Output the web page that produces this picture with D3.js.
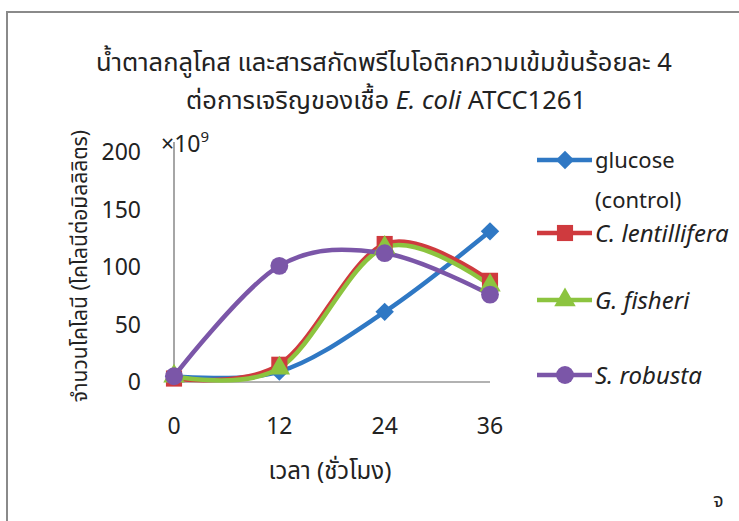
<!DOCTYPE html>
<html>
<head>
<meta charset="utf-8">
<script src="https://cdn.jsdelivr.net/npm/d3@7"></script>
<style>
  html, body { margin: 0; padding: 0; background: #fff; }
  svg { display: block; }
  text { font-family: "Noto Sans", "Noto Sans Thai", "Open Sans", sans-serif; fill: #222; }
</style>
</head>
<body>
<svg id="chart" width="739" height="521"></svg>
<script>
// Growth of E. coli ATCC1261 (colonies x10^9 per mL) over time
const hours = [0, 12, 24, 36];
const glucose = [5, 9, 61, 131];
const lentillifera = [3, 15, 120, 88];
const fisheri = [5, 12, 117, 84];
const robusta = [5, 101, 112, 76];
const yTicks = [0, 50, 100, 150, 200];

const seriesNames = ["glucose (control)", "C. lentillifera", "G. fisheri", "S. robusta"];
const seriesValues = [glucose, lentillifera, fisheri, robusta];
const colors = ["#2f78c4", "#cf3a3e", "#8cc43f", "#7b56a8"];

// marker shapes: diamond is a square turned 45 degrees
const markerPaths = [
  d3.symbol().type(d3.symbolSquare).size(170)(),
  d3.symbol().type(d3.symbolSquare).size(260)(),
  d3.symbol().type(d3.symbolTriangle).size(200)(),
  d3.symbol().type(d3.symbolCircle).size(250)()
];
const markerRotate = [45, 0, 0, 0];

const svg = d3.select("#chart");

// outer frame
svg.append("path")
  .attr("d", "M7,521 L7,12 L739,12")
  .attr("fill", "none").attr("stroke", "#8a8a8a").attr("stroke-width", 2);

const x = d3.scaleLinear().domain([0, 36]).range([174, 490]);
const y = d3.scaleLinear().domain([0, 200]).range([382, 152]);

// title
svg.append("text").attr("x", 384).attr("y", 71).attr("text-anchor", "middle")
  .attr("font-size", 25.5).text("น้ำตาลกลูโคส และสารสกัดพรีไบโอติกความเข้มข้นร้อยละ 4");
const t2 = svg.append("text").attr("x", 386).attr("y", 109).attr("text-anchor", "middle")
  .attr("font-size", 25.5);
t2.append("tspan").text("ต่อการเจริญของเชื้อ ");
t2.append("tspan").attr("font-style", "italic").text("E. coli");
t2.append("tspan").text(" ATCC1261");

// axes lines
svg.append("line").attr("x1", x(0)).attr("x2", x(0)).attr("y1", y(200) - 10).attr("y2", y(0))
  .attr("stroke", "#888").attr("stroke-width", 1.5);
svg.append("line").attr("x1", x(0)).attr("x2", x(36)).attr("y1", y(0)).attr("y2", y(0))
  .attr("stroke", "#999").attr("stroke-width", 1.5);

// y tick labels
svg.append("g").selectAll("text").data(yTicks).join("text")
  .attr("x", 141).attr("y", d => y(d) + 8).attr("text-anchor", "end")
  .attr("font-size", 23).text(d => d);

// x tick labels
svg.append("g").selectAll("text").data(hours).join("text")
  .attr("x", d => x(d)).attr("y", 434).attr("text-anchor", "middle")
  .attr("font-size", 23).text(d => d);

// multiplier
const mult = svg.append("text").attr("x", 161).attr("y", 152).attr("font-size", 23);
mult.append("tspan").text("×10");
mult.append("tspan").attr("font-size", 15).attr("dy", -10).text("9");

// axis titles
svg.append("text").attr("x", 330).attr("y", 479).attr("text-anchor", "middle")
  .attr("font-size", 24).text("เวลา (ชั่วโมง)");
svg.append("text").attr("transform", "translate(87,266) rotate(-90)").attr("text-anchor", "middle")
  .attr("font-size", 21).text("จำนวนโคโลนี (โคโลนีต่อมิลลิลิตร)");

// lines and markers
const line = d3.line().x((d, i) => x(hours[i])).y(d => y(d)).curve(d3.curveCardinal.tension(0));

seriesValues.forEach((vals, s) => {
  svg.append("path").datum(vals).attr("d", line)
    .attr("fill", "none").attr("stroke", colors[s]).attr("stroke-width", 4.5)
    .attr("stroke-linejoin", "round").attr("stroke-linecap", "round");
});
seriesValues.forEach((vals, s) => {
  svg.append("g").selectAll("path").data(vals).join("path")
    .attr("transform", (d, i) => `translate(${x(hours[i])},${y(d)}) rotate(${markerRotate[s]})`)
    .attr("d", markerPaths[s])
    .attr("fill", colors[s]);
});

// legend
const legendY = [160, 233, 300, 375];
seriesValues.forEach((vals, s) => {
  const g = svg.append("g").attr("transform", `translate(0,${legendY[s]})`);
  g.append("line").attr("x1", 537).attr("x2", 592).attr("y1", 0).attr("y2", 0)
    .attr("stroke", colors[s]).attr("stroke-width", 4.5);
  g.append("path").attr("transform", `translate(565,0) rotate(${markerRotate[s]})`)
    .attr("d", markerPaths[s]).attr("fill", colors[s]);
});
const lg0 = svg.append("text").attr("x", 595).attr("y", 168).attr("font-size", 22);
lg0.append("tspan").text("glucose");
lg0.append("tspan").attr("x", 595).attr("dy", 40).text("(control)");
svg.append("text").attr("x", 595).attr("y", 242).attr("font-size", 24).attr("font-style", "italic").text("C. lentillifera");
svg.append("text").attr("x", 595).attr("y", 309).attr("font-size", 24).attr("font-style", "italic").text("G. fisheri");
svg.append("text").attr("x", 595).attr("y", 384).attr("font-size", 24).attr("font-style", "italic").text("S. robusta");

// panel letter
svg.append("text").attr("x", 713).attr("y", 507).attr("font-size", 20).text("จ");
</script>
</body>
</html>
